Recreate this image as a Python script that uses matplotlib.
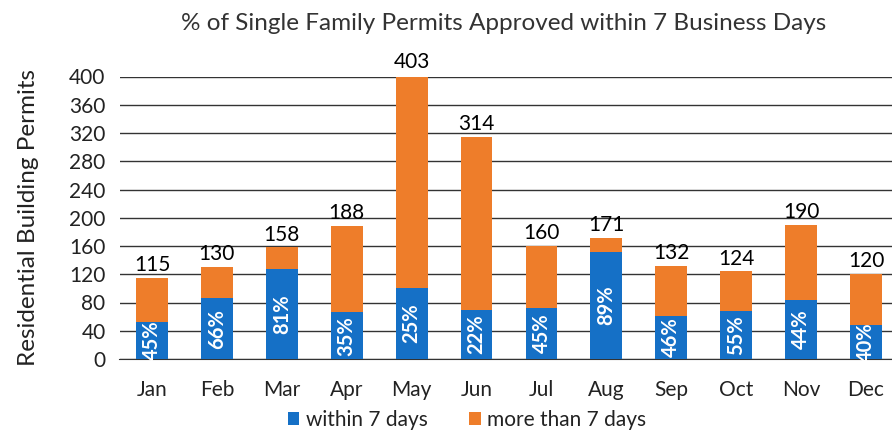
import numpy as np
import matplotlib.pyplot as plt

months = ['Jan', 'Feb', 'Mar', 'Apr', 'May', 'Jun', 'Jul', 'Aug', 'Sep', 'Oct', 'Nov', 'Dec']
totals = [115, 130, 158, 188, 403, 314, 160, 171, 132, 124, 190, 120]
within = [52, 86, 128, 66, 101, 69, 72, 152, 61, 68, 84, 48]
pct_labels = ['45%', '66%', '81%', '35%', '25%', '22%', '45%', '89%', '46%', '55%', '44%', '40%']

plt.rcParams['font.family'] = ['Lato', 'DejaVu Sans']

blue = '#1570c6'
orange = '#ee7d2a'

x = np.arange(len(months))
more = np.array(totals) - np.array(within)

fig = plt.figure(figsize=(8.92, 4.33), dpi=100)
ax = fig.add_axes([119.5/892, 74/433, 779/892, 282.5/433])

ax.bar(x, within, width=0.49, color=blue, label='within 7 days', zorder=3)
ax.bar(x, more, width=0.49, bottom=within, color=orange, label='more than 7 days', zorder=3)

for i in range(len(months)):
    ax.text(x[i], totals[i] + 4, str(totals[i]), ha='center', va='bottom',
            fontsize=15, color='black', clip_on=False)
    ax.text(x[i], within[i] / 2, pct_labels[i], ha='center', va='center',
            rotation=90, fontsize=14.5, color='white', fontweight='bold', zorder=4)

ax.set_xlim(-0.5, 11.5)
ax.set_ylim(0, 400)
ax.set_yticks(np.arange(0, 401, 40))
ax.set_xticks(x)
ax.set_xticklabels(months)
ax.tick_params(axis='both', length=0, labelsize=15, colors='#222222')
ax.tick_params(axis='x', pad=15)
ax.tick_params(axis='y', pad=10)
ax.yaxis.grid(True, color='#333333', linewidth=1.0, zorder=0)
for s in ['top', 'right', 'left']:
    ax.spines[s].set_visible(False)
ax.spines['bottom'].set_color('#333333')

ax.set_ylabel('Residential Building Permits', fontsize=17.5, color='#222222', labelpad=22)
fig.text(504/892, 1 - 23/433, '% of Single Family Permits Approved within 7 Business Days',
         ha='center', va='center', fontsize=17.5, color='#333333')

fig.legend(loc='center', bbox_to_anchor=(467/892, 1 - 420/433), ncol=2, frameon=False,
           fontsize=15, handlelength=0.55, handleheight=0.55, handletextpad=0.3,
           columnspacing=2.0, labelcolor='#222222')

fig.savefig('out.png', dpi=100)
